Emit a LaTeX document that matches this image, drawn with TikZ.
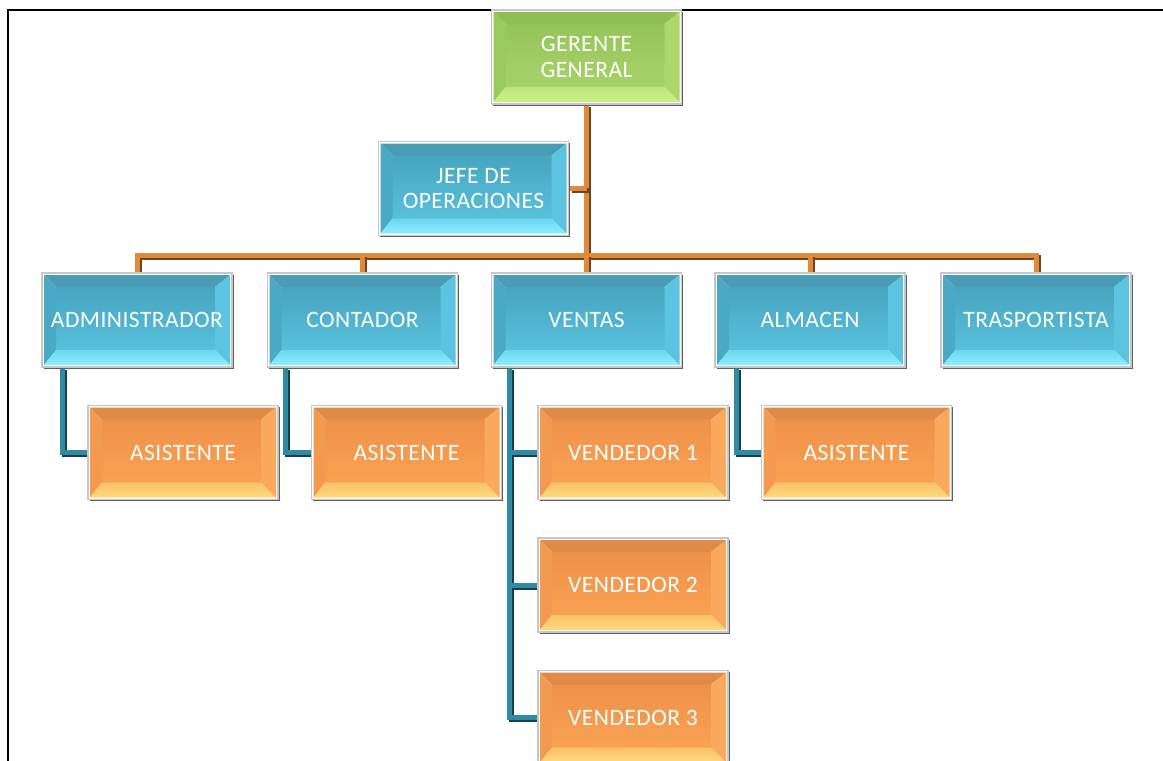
\documentclass[tikz,border=0pt]{standalone}
\usepackage{fontspec}
\setmainfont{Carlito}[LetterSpace=2]
\usetikzlibrary{backgrounds,shadows}

% box colours: top bevel, face (top/bottom), left, right, bottom bevel (top/bottom)
\definecolor{bTop}{HTML}{4A9CB4}\definecolor{bFaceA}{HTML}{47A5C1}\definecolor{bFaceB}{HTML}{58C0DC}
\definecolor{bLeft}{HTML}{4AA9C5}\definecolor{bRight}{HTML}{5CC4E0}\definecolor{bBotA}{HTML}{6CD6EF}\definecolor{bBotB}{HTML}{8DEEFF}
\definecolor{gTop}{HTML}{8FBE54}\definecolor{gFaceA}{HTML}{96C45A}\definecolor{gFaceB}{HTML}{A7D26A}
\definecolor{gLeft}{HTML}{9ACA5E}\definecolor{gRight}{HTML}{ABD76D}\definecolor{gBotA}{HTML}{BDE67A}\definecolor{gBotB}{HTML}{CDF088}
\definecolor{oTop}{HTML}{DF8A47}\definecolor{oFaceA}{HTML}{EE9149}\definecolor{oFaceB}{HTML}{F9A253}
\definecolor{oLeft}{HTML}{F29A50}\definecolor{oRight}{HTML}{F9A85C}\definecolor{oBotA}{HTML}{FBC26A}\definecolor{oBotB}{HTML}{FFD97D}
% connector colours
\definecolor{conO}{HTML}{E08A3C}\definecolor{conOd}{HTML}{6E4323}
\definecolor{conT}{HTML}{2F8BA3}\definecolor{conTd}{HTML}{17404C}

% bevelled face drawn inside a box; #1 is the colour prefix
\newcommand\bevelfill[1]{%
  \coordinate (otl) at ([shift={(2pt,-2pt)}]path picture bounding box.north west);
  \coordinate (otr) at ([shift={(-2pt,-2pt)}]path picture bounding box.north east);
  \coordinate (obr) at ([shift={(-2pt,2pt)}]path picture bounding box.south east);
  \coordinate (obl) at ([shift={(2pt,2pt)}]path picture bounding box.south west);
  \coordinate (itl) at ([shift={(12pt,-12pt)}]otl);
  \coordinate (itr) at ([shift={(-15pt,-12pt)}]otr);
  \coordinate (ibr) at ([shift={(-15pt,15pt)}]obr);
  \coordinate (ibl) at ([shift={(12pt,15pt)}]obl);
  \shade[top color=#1FaceA, bottom color=#1FaceB] (itl) rectangle (ibr);
  \fill[#1Top] (otl) -- (otr) -- (itr) -- (itl) -- cycle;
  \fill[#1Left] (otl) -- (itl) -- (ibl) -- (obl) -- cycle;
  \fill[#1Right] (otr) -- (obr) -- (ibr) -- (itr) -- cycle;
  \shade[top color=#1BotA, bottom color=#1BotB] (obl) -- (ibl) -- (ibr) -- (obr) -- cycle;
}

% connector with a dark edge below and to the right; #1 tube style, #2 path
\newcommand\tube[2]{%
  \begin{scope}[transform canvas={shift={(2.2pt,-2.2pt)}}]
    \draw[#1, #1edge] #2;
  \end{scope}
  \draw[#1] #2;
}

\tikzset{
  orgbox/.style={minimum width=190pt, minimum height=94pt, inner sep=0pt,
    fill=white, draw=black!22, line width=1.6pt, text=white, align=center,
    font=\fontsize{23.5}{25.5}\selectfont,
    general shadow={fill=black!62, shadow xshift=1.8pt, shadow yshift=-1.8pt}},
  bluebox/.style={orgbox, path picture={\bevelfill{b}}},
  greenbox/.style={orgbox, path picture={\bevelfill{g}}},
  orangebox/.style={orgbox, path picture={\bevelfill{o}}},
  otube/.style={line width=5pt, draw=conO, line join=miter},
  otubeedge/.style={draw=conOd},
  ttube/.style={line width=5pt, draw=conT, line join=miter},
  ttubeedge/.style={draw=conTd},
}

\begin{document}
\begin{tikzpicture}[x=1pt, y=-1pt]
\useasboundingbox (0,0) rectangle (1163,761);
\clip (0,0) rectangle (1163,761);

% page frame
\draw[line width=2pt] (1170,10) -- (8,10) -- (8,770);

% boxes
\node[greenbox]  (gg)   at (586.5,57)    {GERENTE\\GENERAL};
\node[bluebox]   (jefe) at (473.5,188.5) {JEFE DE\\OPERACIONES};

\node[bluebox]   (adm)  at (137,320)     {ADMINISTRADOR};
\node[bluebox]   (con)  at (362.5,320)   {CONTADOR};
\node[bluebox]   (ven)  at (586.5,320)   {VENTAS};
\node[bluebox]   (alm)  at (810,320)     {ALMACEN};
\node[bluebox]   (tra)  at (1036,320)    {TRASPORTISTA};

\node[orangebox] (asi1) at (183,452.5)   {ASISTENTE};
\node[orangebox] (asi2) at (406.5,452.5) {ASISTENTE};
\node[orangebox] (v1)   at (633,452.5)   {VENDEDOR 1};
\node[orangebox] (v2)   at (633,585)     {VENDEDOR 2};
\node[orangebox] (v3)   at (633,717.5)   {VENDEDOR 3};
\node[orangebox] (asi3) at (856.5,452.5) {ASISTENTE};

\coordinate (bus) at (586.5,255);

\begin{pgfonlayer}{background}
  % upper levels
  \tube{otube}{(gg.south) -- ([yshift=-6pt]gg.south |- bus)}
  \tube{otube}{(jefe.east) -- (jefe.east -| gg.south)}
  \tube{otube}{(adm.north) -- (adm.north |- bus) -- (tra.north |- bus) -- (tra.north)}
  \tube{otube}{(con.north) -- (con.north |- bus)}
  \tube{otube}{(ven.north) -- (ven.north |- bus)}
  \tube{otube}{(alm.north) -- (alm.north |- bus)}
  % lower levels
  \tube{ttube}{([xshift=21pt]adm.south west) |- (asi1.west)}
  \tube{ttube}{([xshift=19pt]con.south west) |- (asi2.west)}
  \tube{ttube}{([xshift=22pt]alm.south west) |- (asi3.west)}
  \tube{ttube}{([xshift=19pt]ven.south west) |- (v3.west)}
  \tube{ttube}{([xshift=19pt]ven.south west |- v1.west) -- (v1.west)}
  \tube{ttube}{([xshift=19pt]ven.south west |- v2.west) -- (v2.west)}
\end{pgfonlayer}
\end{tikzpicture}
\end{document}
